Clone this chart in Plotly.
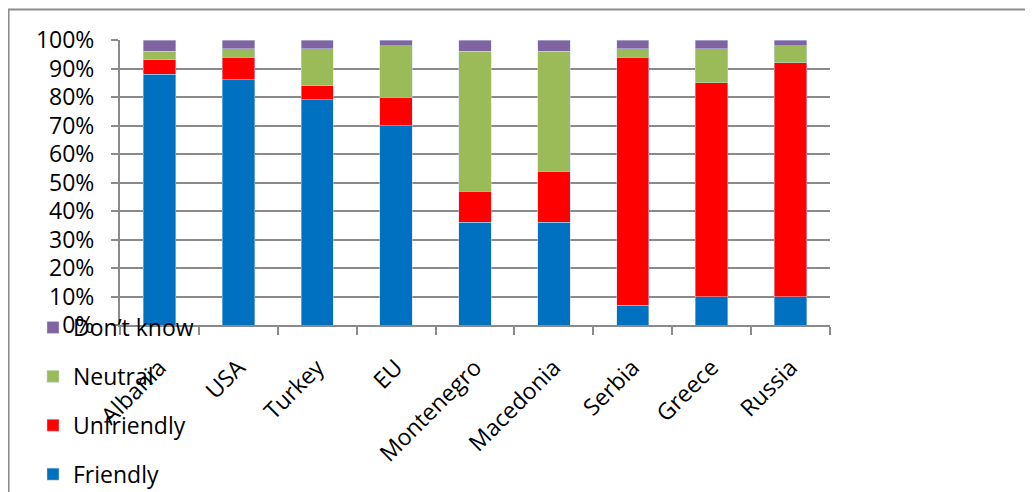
import plotly.graph_objects as go

categories = ["Albania", "USA", "Turkey", "EU", "Montenegro", "Macedonia", "Serbia", "Greece", "Russia"]
friendly = [88, 86, 79, 70, 36, 36, 7, 10, 10]
unfriendly = [5, 8, 5, 10, 11, 18, 87, 75, 82]
neutral = [3, 3, 13, 18, 49, 42, 3, 12, 6]
dont_know = [4, 3, 3, 2, 4, 4, 3, 3, 2]

series = [
    ("Friendly", friendly, "#0070C0"),
    ("Unfriendly", unfriendly, "#FF0000"),
    ("Neutral", neutral, "#9BBB59"),
    ("Don\u2019t know", dont_know, "#8064A2"),
]

W, H = 1033, 492
OFF = 8  # page body margin
L, R, T, B = 120, 830, 40, 325
pw, ph = R - L, B - T

def px(x):
    return (x - L) / pw

def py(y):
    return (B - y) / ph

FONT = "Open Sans"
FS = 23
GRID = "#8A8A8A"

fig = go.Figure()
n = len(series)
for i, (name, vals, col) in enumerate(series):
    fig.add_trace(go.Bar(
        x=categories, y=vals, name=name,
        marker=dict(color=col, line=dict(color="rgba(200,220,240,0.6)", width=0.8)),
        legendgroup=f"g{i}", legendrank=n - i, width=0.41,
    ))

fig.update_layout(
    barmode="stack",
    width=W, height=H,
    margin=dict(l=L - OFF, r=W - (R - OFF), t=T - OFF, b=H - (B - OFF), pad=0, autoexpand=False),
    plot_bgcolor="white", paper_bgcolor="white",
    font=dict(family=FONT, size=FS, color="black"),
    showlegend=True,
    legend=dict(
        traceorder="grouped", tracegroupgap=16,
        x=px(33), xanchor="left", y=py(306), yanchor="top",
        font=dict(family=FONT, size=FS, color="black"),
        bgcolor="rgba(0,0,0,0)", itemwidth=30,
    ),
    xaxis=dict(
        showgrid=False, tickangle=-45, tickson="boundaries",
        ticks="outside", ticklen=8, tickcolor=GRID, tickwidth=2,
        showline=True, linecolor=GRID, linewidth=2,
        tickfont=dict(family=FONT, size=FS),
        ticklabelstandoff=18, automargin=False,
    ),
    yaxis=dict(
        range=[0, 100], tickvals=[0, 10, 20, 30, 40, 50, 60, 70, 80, 90, 100],
        ticktext=[f"{v}%" for v in range(0, 101, 10)],
        showgrid=True, gridcolor=GRID, gridwidth=2,
        ticks="outside", ticklen=7, tickcolor=GRID, tickwidth=2,
        showline=True, linecolor=GRID, linewidth=2,
        zeroline=False,
        tickfont=dict(family=FONT, size=FS),
        ticklabelstandoff=12, automargin=False,
    ),
    shapes=[dict(
        type="rect", xref="paper", yref="paper",
        x0=px(8.6), x1=px(1045), y0=py(510), y1=py(9.5),
        line=dict(color="#8C8C8C", width=2), fillcolor="rgba(0,0,0,0)", layer="below",
    )],
)

fig.write_html("out.html")
